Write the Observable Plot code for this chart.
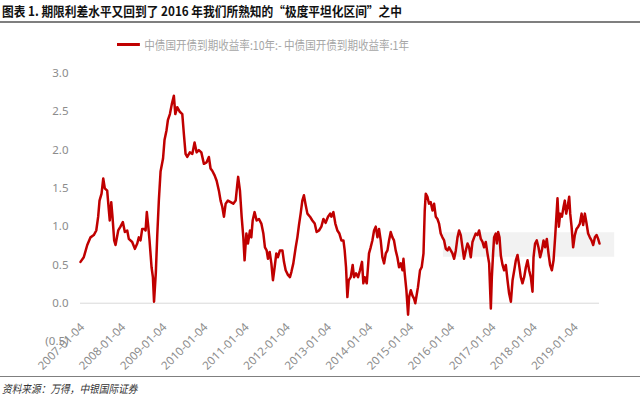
<!DOCTYPE html>
<html>
<head>
<meta charset="utf-8">
<script src="https://cdn.jsdelivr.net/npm/d3@7"></script>
<script src="https://cdn.jsdelivr.net/npm/@observablehq/plot@0.6"></script>
<style>
  html, body { margin: 0; padding: 0; background: #fff; }
  #wrap { position: relative; width: 640px; height: 399px; overflow: hidden; font-family: "Noto Sans CJK SC", "Noto Sans", sans-serif; }
  #title { position: absolute; left: 2px; top: 1px; font-size: 13px; font-weight: bold; color: #111; white-space: nowrap; transform: scaleX(0.9); transform-origin: left center; }
  #rule1 { position: absolute; left: 0; top: 21px; width: 640px; height: 0; border-top: 2px solid #7f7f7f; }
  #legend { position: absolute; left: 117px; top: 36px; font-size: 12px; color: #a6a6a6; white-space: nowrap; display: flex; align-items: center; transform: scaleX(0.88); transform-origin: left center; }
  #legend .sw { display: inline-block; width: 26px; height: 0; border-top: 3px solid #c00000; margin-right: 5px; }
  #chart { position: absolute; left: 0; top: 58px; }
  #rule2 { position: absolute; left: 0; top: 376px; width: 640px; height: 0; border-top: 1px solid #7f7f7f; }
  #source { position: absolute; left: 2px; top: 380px; font-size: 11px; font-style: italic; color: #333; white-space: nowrap; transform: scaleX(0.88); transform-origin: left center; }
</style>
</head>
<body>
<div id="wrap">
  <div id="title">图表 1. 期限利差水平又回到了 2016 年我们所熟知的“极度平坦化区间”之中</div>
  <div id="rule1"></div>
  <div id="legend"><span class="sw"></span><span>中债国开债到期收益率:10年:- 中债国开债到期收益率:1年</span></div>
  <div id="chart"></div>
  <div id="rule2"></div>
  <div id="source">资料来源：万得，中银国际证券</div>
</div>
<script>
// Spread: 10Y CDB yield minus 1Y CDB yield (%)
const dates = [
"2007-01-04","2007-02-02","2007-03-05","2007-04-03","2007-05-02","2007-05-24","2007-06-10","2007-06-22","2007-07-10","2007-07-25",
"2007-08-08","2007-08-29","2007-09-13","2007-09-21","2007-10-04","2007-10-15","2007-10-30","2007-11-11","2007-12-05","2007-12-25",
"2008-01-15","2008-02-02","2008-02-23","2008-03-08","2008-04-07","2008-05-01","2008-05-22","2008-06-05","2008-06-20","2008-07-05",
"2008-07-26","2008-08-04","2008-08-15","2008-08-28","2008-09-08","2008-09-26","2008-10-08","2008-10-18","2008-11-03","2008-11-16",
"2008-11-30","2008-12-15","2009-01-06","2009-01-19","2009-02-06","2009-02-18","2009-03-08","2009-03-25","2009-04-12","2009-04-25",
"2009-05-12","2009-06-04","2009-06-26","2009-07-10","2009-07-25","2009-08-09","2009-09-01","2009-09-23","2009-10-13","2009-10-31",
"2009-11-20","2009-12-12","2010-01-04","2010-01-28","2010-02-17","2010-03-04","2010-03-19","2010-04-09","2010-04-27","2010-05-17",
"2010-06-01","2010-06-16","2010-07-01","2010-07-16","2010-08-05","2010-08-29","2010-09-22","2010-10-13","2010-10-28","2010-11-04",
"2010-11-20","2010-12-05","2010-12-20","2010-12-31","2011-01-16","2011-01-30","2011-02-17","2011-03-01","2011-03-13","2011-03-30",
"2011-04-17","2011-05-08","2011-05-29","2011-06-16","2011-06-30","2011-07-15","2011-07-27","2011-08-11","2011-08-26","2011-09-09",
"2011-09-24","2011-10-09","2011-10-23","2011-11-10","2011-12-02","2011-12-16","2011-12-31","2012-01-20","2012-02-07","2012-02-20",
"2012-03-08","2012-03-29","2012-04-13","2012-04-27","2012-05-12","2012-05-27","2012-06-10","2012-06-26","2012-07-11","2012-08-03",
"2012-08-24","2012-09-14","2012-10-01","2012-10-22","2012-11-12","2012-11-30","2012-12-20","2013-01-10","2013-01-29","2013-02-09",
"2013-02-27","2013-03-16","2013-04-03","2013-04-21","2013-05-09","2013-05-27","2013-06-07","2013-06-19","2013-07-01","2013-07-13",
"2013-07-31","2013-08-17","2013-08-29","2013-09-16","2013-10-04","2013-10-21","2013-11-08","2013-11-20","2013-12-02","2013-12-20",
"2014-01-09","2014-01-24","2014-02-08","2014-02-23","2014-03-10","2014-03-25","2014-04-08","2014-04-23","2014-05-08","2014-05-23",
"2014-06-07","2014-06-22","2014-07-06","2014-07-21","2014-08-05","2014-08-19","2014-09-03","2014-09-18","2014-10-03","2014-10-18",
"2014-11-02","2014-11-11","2014-11-22","2014-12-07","2014-12-22","2014-12-31","2015-01-15","2015-01-30","2015-02-13","2015-02-24",
"2015-03-13","2015-03-20","2015-04-07","2015-04-22","2015-05-08","2015-05-19","2015-05-28","2015-06-12","2015-06-26","2015-07-11",
"2015-07-27","2015-08-10","2015-08-25","2015-09-09","2015-09-23","2015-10-08","2015-10-23","2015-11-07","2015-11-22","2015-12-07",
"2015-12-21","2016-01-05","2016-01-20","2016-02-04","2016-02-19","2016-03-05","2016-03-19","2016-04-03","2016-04-18","2016-05-02",
"2016-05-18","2016-06-02","2016-06-16","2016-07-01","2016-07-16","2016-07-31","2016-08-14","2016-08-29","2016-09-13","2016-09-28",
"2016-10-13","2016-10-27","2016-11-11","2016-11-26","2016-12-11","2016-12-26","2017-01-04","2017-01-15","2017-01-24","2017-02-08",
"2017-02-17","2017-03-01","2017-03-13","2017-03-25","2017-04-09","2017-04-23","2017-05-08","2017-05-23","2017-06-06","2017-06-22",
"2017-07-07","2017-07-22","2017-08-05","2017-08-20","2017-09-03","2017-09-18","2017-10-03","2017-10-18","2017-11-02","2017-11-17",
"2017-12-01","2017-12-16","2017-12-31","2018-01-09","2018-01-23","2018-02-07","2018-02-22","2018-03-09","2018-03-24","2018-04-08",
"2018-04-22","2018-05-07","2018-05-22","2018-06-05","2018-06-21","2018-07-06","2018-07-20","2018-07-29","2018-08-10","2018-08-22",
"2018-09-03","2018-09-18","2018-10-03","2018-10-14","2018-10-26","2018-11-08","2018-11-22","2018-12-01","2018-12-13","2018-12-27",
"2019-01-11","2019-01-26","2019-02-10","2019-02-25","2019-03-12","2019-03-26","2019-04-10","2019-04-25","2019-05-09","2019-05-24",
"2019-06-08","2019-06-23","2019-07-08","2019-07-23","2019-08-06","2019-08-18"
];
const spread = [
0.54,0.60,0.76,0.86,0.89,0.95,1.13,1.34,1.43,1.63,
1.50,1.47,1.21,1.08,1.32,1.13,0.82,0.76,0.95,1.00,
1.06,0.93,0.95,0.84,0.80,0.71,0.78,0.86,0.82,0.97,
0.97,0.95,1.19,1.00,0.82,0.47,0.34,0.02,0.40,0.90,
1.35,1.72,1.89,2.13,2.26,2.39,2.47,2.60,2.71,2.47,
2.56,2.50,2.47,2.21,1.95,1.91,1.97,1.95,2.10,1.97,
2.00,1.97,1.82,1.84,1.91,1.76,1.73,1.67,1.60,1.47,
1.34,1.26,1.13,1.30,1.34,1.32,1.30,1.34,1.56,1.65,
1.47,1.13,0.86,0.56,0.91,0.78,0.95,0.86,1.08,1.19,
1.08,1.10,1.04,0.91,0.73,0.69,0.58,0.67,0.52,0.30,
0.47,0.65,0.60,0.69,0.69,0.54,0.43,0.37,0.34,0.41,
0.52,0.73,0.86,1.02,1.17,1.34,1.41,1.28,1.17,1.13,
1.08,1.04,0.93,0.95,1.00,1.10,1.05,1.13,1.17,1.13,
1.19,1.04,0.95,0.91,0.82,0.82,0.69,0.47,0.08,0.30,
0.34,0.50,0.34,0.39,0.34,0.43,0.54,0.26,0.34,0.26,
0.65,0.73,0.82,0.95,1.00,0.86,0.97,0.82,0.60,0.52,
0.65,0.69,0.82,0.93,0.86,0.82,0.69,0.60,0.47,0.52,
0.43,0.58,0.39,0.17,-0.15,0.08,0.17,0.10,0.06,0.00,
0.15,0.21,0.43,0.47,0.65,1.21,1.43,1.39,1.30,1.32,
1.21,1.30,1.13,1.10,1.04,0.91,0.86,0.82,0.71,0.69,
0.73,0.69,0.65,0.58,0.69,0.86,0.95,0.89,0.73,0.58,
0.69,0.78,0.73,0.60,0.80,0.86,0.91,0.89,0.95,0.84,
0.80,0.73,0.80,0.65,0.52,-0.07,0.34,0.65,0.86,0.91,
0.78,0.93,0.86,0.62,0.50,0.43,0.50,0.30,0.13,0.02,
0.30,0.43,0.56,0.63,0.50,0.34,0.26,0.34,0.47,0.56,
0.43,0.34,0.15,0.60,0.78,0.82,0.73,0.60,0.69,0.82,
0.73,0.84,0.65,0.50,0.43,0.56,0.86,1.08,1.37,1.00,
1.17,1.13,1.26,1.34,1.17,1.26,1.39,1.17,1.00,0.73,
0.89,0.97,1.00,1.04,1.17,1.02,1.17,1.04,0.91,0.86,
0.82,0.76,0.86,0.89,0.84,0.78
];
// "flat range" band
const bandDates = ["2015-11-01", "2019-12-31"];
const bandRange = [0.6, 0.92];
// axis ticks
const xTickDates = ["2007-01-04","2008-01-04","2009-01-04","2010-01-04","2011-01-04","2012-01-04","2013-01-04","2014-01-04","2015-01-04","2016-01-04","2017-01-04","2018-01-04","2019-01-04"];
const yTicks = [-0.5, 0, 0.5, 1.0, 1.5, 2.0, 2.5, 3.0];

const data = dates.map((d, i) => ({date: new Date(d), value: spread[i]}));
const band = [{x1: new Date(bandDates[0]), x2: new Date(bandDates[1]), y1: bandRange[0], y2: bandRange[1]}];

const chart = Plot.plot({
  width: 640,
  height: 318,
  marginLeft: 80,
  marginRight: 41,
  marginTop: 15,
  marginBottom: 35,
  style: {fontFamily: "'Noto Sans', 'Noto Sans CJK SC', sans-serif", background: "transparent", overflow: "visible"},
  x: {type: "utc", domain: [new Date(dates[0]), new Date(dates[dates.length - 1])]},
  y: {domain: [-0.5, 3]},
  marks: [
    Plot.rect(band, {x1: "x1", x2: "x2", y1: "y1", y2: "y2", fill: "#f2f2f2"}),
    Plot.ruleY([0], {stroke: "#d9d9d9", strokeWidth: 1}),
    Plot.line(data, {x: "date", y: "value", stroke: "#c00000", strokeWidth: 2.5, strokeLinejoin: "round"}),
    Plot.axisY(yTicks, {tickSize: 0, tickPadding: 12, fontSize: 11.5, fill: "#8c8c8c",
      tickFormat: d => d < 0 ? `(${Math.abs(d).toFixed(1)})` : d.toFixed(1), label: null}),
    Plot.axisX(xTickDates.map(d => new Date(d)), {tickSize: 0, tickRotate: -45, fontSize: 11.5, fill: "#8c8c8c",
      tickFormat: d3.utcFormat("%Y-%m-%d"), dy: -28, dx: 2, label: null})
  ]
});
document.getElementById("chart").appendChild(chart);
</script>
</body>
</html>
